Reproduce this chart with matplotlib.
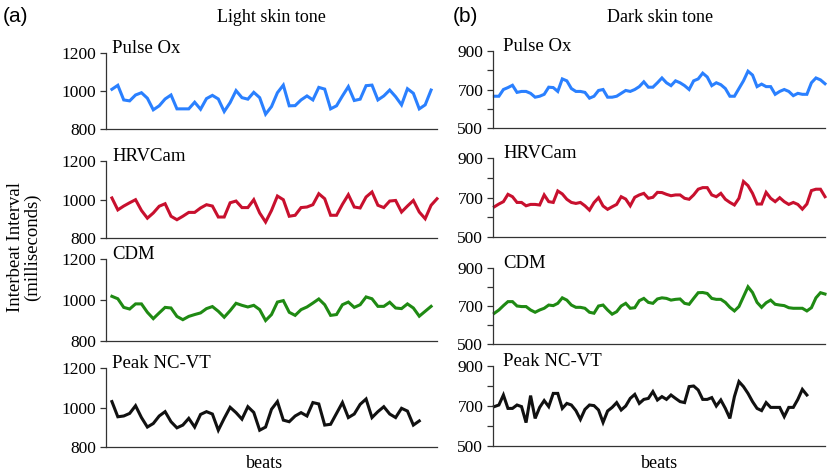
import numpy as np
import matplotlib
matplotlib.use("Agg")
import matplotlib.pyplot as plt

# values (interbeat interval, ms)
methods = ["Pulse Ox", "HRVCam", "CDM", "Peak NC-VT"]
colors = ["#2a80ff", "#c8102e", "#1f8a13", "#111111"]

light_pulse_ox = [1009, 1030, 953, 948, 979, 991, 962, 901, 922, 958, 979, 906, 906, 906, 941, 904, 960, 977, 958, 892,
                  939, 1002, 965, 957, 993, 965, 878, 918, 991, 1031, 922, 923, 953, 974, 953, 1019, 1010, 906, 922, 974,
                  1023, 950, 957, 1028, 1031, 953, 974, 1005, 970, 927, 1012, 988, 906, 927, 1005]
light_hrvcam = [1008, 946, 966, 983, 999, 943, 903, 930, 965, 978, 913, 895, 913, 933, 933, 956, 973, 966, 909, 909,
                983, 992, 958, 958, 999, 930, 883, 943, 1018, 999, 913, 918, 958, 961, 973, 1030, 1004, 918, 918, 975,
                1025, 961, 956, 1013, 1039, 970, 958, 992, 995, 935, 966, 995, 935, 900, 970, 1004]
light_cdm = [1018, 1006, 964, 956, 981, 981, 940, 909, 937, 964, 961, 920, 904, 920, 929, 937, 958, 968, 945, 916,
             948, 984, 974, 966, 974, 953, 900, 929, 990, 997, 940, 925, 953, 966, 985, 1005, 977, 925, 929, 977,
             990, 964, 977, 1015, 1006, 969, 969, 989, 961, 958, 981, 961, 921, 945, 969]
light_peak = [1030, 953, 957, 970, 1009, 949, 901, 919, 957, 979, 928, 897, 911, 945, 901, 965, 979, 967, 885, 945,
              1001, 974, 941, 1004, 975, 885, 901, 991, 1030, 936, 928, 957, 974, 957, 1025, 1018, 911, 915, 970, 1025,
              949, 967, 1016, 1043, 949, 979, 1004, 967, 949, 996, 982, 911, 932]

dark_pulse_ox = [665, 665, 700, 710, 722, 685, 690, 690, 680, 660, 665, 675, 712, 710, 690, 755, 745, 705, 690, 690,
                 685, 655, 665, 695, 700, 660, 660, 665, 680, 695, 690, 700, 715, 740, 712, 712, 735, 760, 735, 720,
                 745, 735, 720, 700, 745, 755, 785, 765, 720, 735, 725, 705, 665, 665, 705, 745, 795, 775, 715, 728,
                 715, 715, 675, 690, 700, 690, 668, 680, 675, 675, 735, 760, 750, 730]
dark_hrvcam = [653, 667, 679, 716, 704, 675, 675, 658, 665, 665, 662, 713, 679, 675, 733, 718, 691, 675, 670, 675,
               658, 636, 674, 699, 657, 640, 653, 665, 704, 692, 658, 701, 713, 721, 696, 701, 726, 725, 716, 709,
               713, 713, 696, 691, 713, 742, 750, 750, 713, 704, 721, 691, 675, 662, 696, 781, 760, 721, 667, 667,
               726, 696, 679, 699, 679, 665, 675, 665, 641, 667, 735, 742, 742, 704]
dark_cdm = [662, 679, 702, 723, 723, 700, 697, 697, 679, 667, 679, 688, 705, 702, 714, 743, 731, 705, 693, 693,
            688, 667, 662, 700, 705, 679, 657, 670, 700, 714, 688, 691, 728, 740, 719, 714, 737, 743, 740, 731,
            735, 737, 714, 709, 740, 770, 771, 766, 740, 735, 735, 719, 693, 674, 697, 749, 801, 771, 719, 693,
            717, 731, 709, 705, 702, 691, 688, 688, 688, 674, 691, 743, 770, 763]
dark_peak = [697, 705, 755, 688, 688, 705, 697, 617, 752, 638, 693, 727, 697, 763, 763, 688, 713, 705, 677, 633,
             683, 705, 702, 680, 618, 675, 693, 717, 680, 700, 738, 758, 713, 733, 738, 772, 730, 747, 733, 755,
             738, 722, 717, 797, 800, 780, 733, 733, 742, 700, 730, 688, 638, 747, 822, 797, 763, 722, 688, 677,
             717, 693, 693, 693, 647, 693, 693, 733, 783, 755]

light = [light_pulse_ox, light_hrvcam, light_cdm, light_peak]
dark = [dark_pulse_ox, dark_hrvcam, dark_cdm, dark_peak]

light_ticks = [800, 1000, 1200]
dark_ticks = [500, 700, 900]
dark_minor = [600, 800]

W, H = 830, 474
# axes boxes in pixels: (top, bottom)
left_rows = [(53, 129), (161, 238), (259, 341), (368, 447)]
right_rows = [(51, 128), (158, 237), (268, 344), (366, 446)]
left_x = (106, 437)
right_x = (493, 825)

SERIF = "Liberation Serif"

fig = plt.figure(figsize=(W / 100, H / 100), dpi=100)


def make_ax(xpx, ypx):
    x0, x1 = xpx
    t, b = ypx
    return fig.add_axes([x0 / W, 1 - b / H, (x1 - x0) / W, (b - t) / H])


def style(ax, ticks, xlim, minor=None):
    ax.set_ylim(ticks[0], ticks[-1])
    ax.set_yticks(ticks)
    if minor:
        ax.set_yticks(minor, minor=True)
    ax.set_xlim(*xlim)
    ax.set_xticks([])
    for s in ["top", "right"]:
        ax.spines[s].set_visible(False)
    for s in ["left", "bottom"]:
        ax.spines[s].set_linewidth(0.9)
        ax.spines[s].set_color("#333333")
    ax.tick_params(axis="y", which="both", direction="out", length=4, width=0.9,
                   color="#333333", pad=3, labelsize=12.5)
    for lab in ax.get_yticklabels():
        lab.set_fontfamily(SERIF)
    ax.patch.set_alpha(0)


for i in range(4):
    ax = make_ax(left_x, left_rows[i])
    y = light[i]
    ax.plot(np.arange(len(y)), y, color=colors[i], lw=2.2, solid_joinstyle="miter",
            clip_on=False)
    style(ax, light_ticks, (-1, 55))
    ax.text(0.018, 1.0, methods[i], transform=ax.transAxes, family=SERIF,
            fontsize=13.5, va="baseline", ha="left")

    ax = make_ax(right_x, right_rows[i])
    y = dark[i]
    ax.plot(np.arange(len(y)), y, color=colors[i], lw=2.2, solid_joinstyle="miter",
            clip_on=False)
    style(ax, dark_ticks, (-0.3, 73), dark_minor)
    ax.text(0.03, 1.0, methods[i], transform=ax.transAxes, family=SERIF,
            fontsize=13.5, va="baseline", ha="left")

fig.text(3 / W, 1 - 16 / H, "(a)", family="Liberation Sans", fontsize=15, va="center", ha="left")
fig.text(453 / W, 1 - 16 / H, "(b)", family="Liberation Sans", fontsize=15, va="center", ha="left")
fig.text(271 / W, 1 - 17 / H, "Light skin tone", family=SERIF, fontsize=13, va="center", ha="center")
fig.text(660 / W, 1 - 17 / H, "Dark skin tone", family=SERIF, fontsize=13, va="center", ha="center")
fig.text(265 / W, 1 - 463 / H, "beats", family=SERIF, fontsize=13, va="center", ha="center")
fig.text(660 / W, 1 - 463 / H, "beats", family=SERIF, fontsize=13, va="center", ha="center")
fig.text(24 / W, 1 - 247 / H, "Interbeat Interval\n(milliseconds)", family=SERIF, fontsize=13.5,
         rotation=90, va="center", ha="center", multialignment="center", linespacing=0.95)

fig.savefig("out.png", dpi=100)
